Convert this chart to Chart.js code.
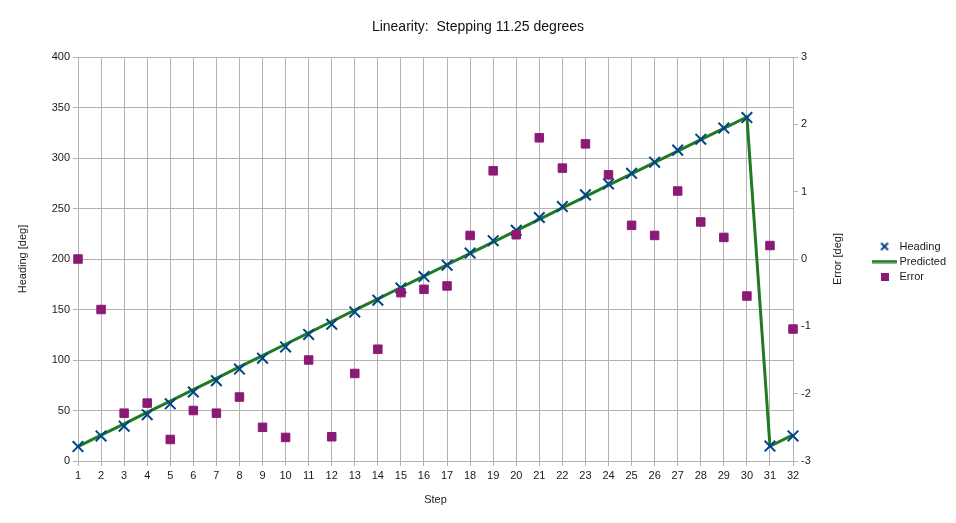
<!DOCTYPE html>
<html>
<head>
<meta charset="utf-8">
<script src="https://cdn.jsdelivr.net/npm/chart.js@4/dist/chart.umd.min.js"></script>
<style>
  html, body { margin: 0; padding: 0; background: #ffffff; }
  #wrap { width: 956px; height: 523px; }
</style>
</head>
<body>
<div id="wrap"><canvas id="c" width="956" height="523"></canvas></div>
<script>
// ---- Data ----
const steps = ['1','2','3','4','5','6','7','8','9','10','11','12','13','14','15','16',
               '17','18','19','20','21','22','23','24','25','26','27','28','29','30','31','32'];
const heading = [14.3, 24.8, 34.5, 45.9, 56.6, 68.3, 79.5, 91.0, 101.8, 112.9, 125.3, 135.4,
                 147.6, 159.2, 171.3, 182.6, 193.9, 205.9, 218.1, 228.4, 241.1, 251.9, 263.5, 274.3,
                 284.8, 295.9, 307.8, 318.6, 329.6, 340.0, 14.8, 24.8];
const predicted = [14.3, 25.6, 36.8, 48.1, 59.3, 70.6, 81.8, 93.1, 104.3, 115.6, 126.8, 138.1,
                   149.3, 160.6, 171.8, 183.1, 194.3, 205.6, 216.8, 228.1, 239.3, 250.6, 261.8, 273.1,
                   284.3, 295.6, 306.8, 318.1, 329.3, 340.6, 14.6, 25.8];
const errors = [0.00, -0.75, -2.29, -2.14, -2.68, -2.25, -2.29, -2.05, -2.50, -2.65, -1.50, -2.64,
                -1.70, -1.34, -0.50, -0.45, -0.40, 0.35, 1.31, 0.36, 1.80, 1.35, 1.71, 1.25,
                0.50, 0.35, 1.01, 0.55, 0.32, -0.55, 0.20, -1.04];
const headingAxis = { min: 0, max: 400, step: 50 };
const errorAxis = { min: -3, max: 3, step: 1 };
const seriesNames = ['Heading', 'Predicted', 'Error'];

// ---- Styles ----
const FONT = 'Liberation Sans';
const BLUE = '#004586', GREEN = '#1f7a22', PURPLE = '#8b1a74';
const GRID = '#b3b3b3', TEXT = '#1a1a1a';

// Legend markers as small canvases
function mk(w, h, draw) { const c = document.createElement('canvas'); c.width = w; c.height = h; draw(c.getContext('2d')); return c; }
const legX = mk(10, 10, g => { g.strokeStyle = BLUE; g.lineWidth = 2; g.beginPath(); g.moveTo(1.5,1.5); g.lineTo(8.5,8.5); g.moveTo(8.5,1.5); g.lineTo(1.5,8.5); g.stroke(); });
const legLine = mk(25, 4, g => { g.fillStyle = GREEN; g.fillRect(0, 0.5, 25, 3); });
const legSq = mk(8, 8, g => { g.fillStyle = PURPLE; g.fillRect(0, 0, 8, 8); });

const rightTitle = {
  id: 'rightTitle',
  afterDraw(chart) {
    const s = chart.scales.y1, a = chart.chartArea, ctx = chart.ctx;
    ctx.save();
    ctx.font = '11px "' + FONT + '"';
    ctx.fillStyle = TEXT;
    ctx.textAlign = 'center';
    ctx.textBaseline = 'middle';
    ctx.translate(s.left + 45, (a.top + a.bottom) / 2);
    ctx.rotate(-Math.PI / 2);
    ctx.fillText('Error [deg]', 0, 0);
    ctx.restore();
  }
};

new Chart(document.getElementById('c'), {
  type: 'line',
  data: {
    labels: steps,
    datasets: [
      { label: seriesNames[0], data: heading, yAxisID: 'y', order: 2, showLine: false,
        pointStyle: 'crossRot', pointRadius: 7.5, pointHoverRadius: 7.5, pointBorderWidth: 2,
        borderColor: BLUE, backgroundColor: BLUE, clip: false },
      { label: seriesNames[1], data: predicted, yAxisID: 'y', order: 3,
        borderColor: GREEN, backgroundColor: GREEN, borderWidth: 3, pointRadius: 0, tension: 0, clip: false },
      { label: seriesNames[2], data: errors, yAxisID: 'y1', order: 1, showLine: false,
        pointStyle: 'rect', pointRadius: 6, pointHoverRadius: 6, pointBorderWidth: 1,
        borderColor: PURPLE, backgroundColor: PURPLE, clip: false }
    ]
  },
  options: {
    responsive: false,
    animation: false,
    layout: { padding: { left: 0, right: 0, top: 0, bottom: 0 } },
    plugins: {
      title: {
        display: true, text: 'Linearity:  Stepping 11.25 degrees', color: '#111',
        font: { family: FONT, size: 14, weight: 'normal' },
        padding: { top: 18.6, bottom: 21.6 }
      },
      legend: {
        position: 'right',
        labels: {
          usePointStyle: true, pointStyleWidth: 19, padding: 4, color: TEXT,
          font: { family: FONT, size: 11 },
          generateLabels: () => [
            { text: seriesNames[0], pointStyle: legX, datasetIndex: 0, hidden: false, fillStyle: BLUE, strokeStyle: BLUE, lineWidth: 0, fontColor: TEXT },
            { text: seriesNames[1], pointStyle: legLine, datasetIndex: 1, hidden: false, fillStyle: GREEN, strokeStyle: GREEN, lineWidth: 0, fontColor: TEXT },
            { text: seriesNames[2], pointStyle: legSq, datasetIndex: 2, hidden: false, fillStyle: PURPLE, strokeStyle: PURPLE, lineWidth: 0, fontColor: TEXT }
          ]
        }
      },
      tooltip: { enabled: false }
    },
    scales: {
      x: {
        type: 'category', offset: false,
        grid: { color: GRID, tickLength: 5, tickColor: GRID },
        border: { color: GRID },
        ticks: { autoSkip: false, maxRotation: 0, color: TEXT, padding: 3, font: { family: FONT, size: 11 } },
        title: { display: true, text: 'Step', color: TEXT, font: { family: FONT, size: 11 }, padding: { top: 0, bottom: 16.4 } },
        afterFit(s) { s.height = 62; }
      },
      y: {
        position: 'left', min: headingAxis.min, max: headingAxis.max,
        grid: { color: GRID, tickLength: 5, tickColor: GRID },
        border: { color: GRID },
        ticks: { stepSize: headingAxis.step, color: TEXT, padding: 3, font: { family: FONT, size: 11 } },
        title: { display: true, text: 'Heading [deg]', color: TEXT, font: { family: FONT, size: 11 }, padding: { top: 16, bottom: 0 } },
        afterFit(s) { s.width = 78; }
      },
      y1: {
        position: 'right', min: errorAxis.min, max: errorAxis.max,
        grid: { drawOnChartArea: false, color: GRID, tickLength: 5, tickColor: GRID },
        border: { color: GRID },
        ticks: { stepSize: errorAxis.step, color: TEXT, padding: 3, font: { family: FONT, size: 11 } },
        afterFit(s) { s.width = 78; }
      }
    }
  },
  plugins: [rightTitle]
});
</script>
</body>
</html>
